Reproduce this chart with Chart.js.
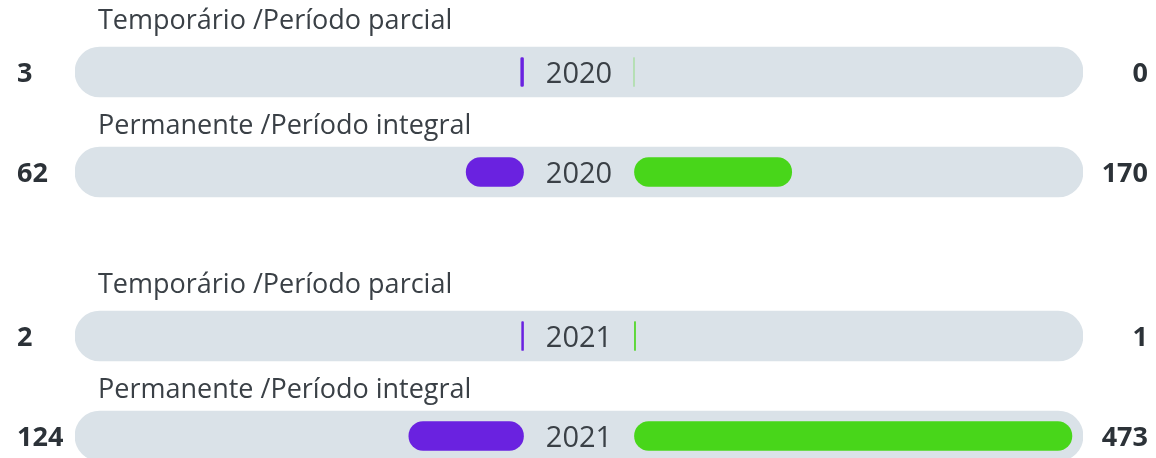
<!DOCTYPE html>
<html>
<head>
<meta charset="utf-8">
<script src="https://cdn.jsdelivr.net/npm/chart.js@4"></script>
<style>
  html, body { margin: 0; padding: 0; background: #ffffff; overflow: hidden; }
  .year-chart { position: absolute; left: 0; }
</style>
</head>
<body>
<canvas id="chart2020" class="year-chart" width="1156" height="264" style="top:0px"></canvas>
<canvas id="chart2021" class="year-chart" width="1156" height="264" style="top:264px"></canvas>
<script>
// Row labels (one bar per contract type)
const categories = ["Temporário /Período parcial", "Permanente /Período integral"];

// Values per year: purple grows to the left, green grows to the right
const years = ["2020", "2021"];
const purple2020 = [3, 62];
const green2020 = [0, 170];
const purple2021 = [2, 124];
const green2021 = [1, 473];

// Half width of the axis and the empty gap around the year text (axis units)
const AXIS_MAX = 545;
const GAP = 60;

const PURPLE = "#6a22e0";
const GREEN = "#48d61a";
const TRACK = "#dae2e8";
const TEXT = "#3a4046";

// Draws the row labels, the year in the middle and the values on both ends
const labelsPlugin = {
  id: "rowLabels",
  afterDatasetsDraw(chart, args, opts) {
    const { ctx } = chart;
    const xScale = chart.scales.x;
    const yScale = chart.scales.y;
    const labelOffsets = [43, 38];
    ctx.save();
    categories.forEach((label, i) => {
      const yc = yScale.getPixelForValue(i);
      ctx.fillStyle = TEXT;
      ctx.textBaseline = "alphabetic";

      ctx.font = '27px "Open Sans"';
      ctx.textAlign = "left";
      ctx.fillText(label, 98, yc - labelOffsets[i]);

      ctx.font = '29px "Open Sans"';
      ctx.textAlign = "center";
      ctx.fillText(opts.year, xScale.getPixelForValue(0), yc + 10.5);

      ctx.fillStyle = "#2c3238";
      ctx.font = 'bold 27px "Open Sans"';
      ctx.textAlign = "left";
      ctx.fillText(String(opts.left[i]), 17, yc + 10);
      ctx.textAlign = "right";
      ctx.fillText(String(opts.right[i]), 1148, yc + 10);
    });
    ctx.restore();
  },
};

function makeYearChart(canvasId, year, leftValues, rightValues) {
  const ctx = document.getElementById(canvasId).getContext("2d");
  return new Chart(ctx, {
    type: "bar",
    data: {
      labels: categories,
      datasets: [
        // Grey background track
        {
          data: categories.map(() => [-AXIS_MAX, AXIS_MAX]),
          backgroundColor: TRACK,
          barThickness: 50,
          borderRadius: 25,
          borderSkipped: false,
          grouped: false,
          order: 3,
        },
        // Purple bars to the left of the year
        {
          data: leftValues.map((v) => [-GAP - v, -GAP]),
          backgroundColor: PURPLE,
          barThickness: 29,
          borderRadius: 14.5,
          borderSkipped: false,
          grouped: false,
          order: 1,
        },
        // Green bars to the right of the year
        {
          data: rightValues.map((v) => [GAP, GAP + v]),
          backgroundColor: (c) => (rightValues[c.dataIndex] === 0 ? "rgba(72,214,26,0.3)" : GREEN),
          barThickness: 29,
          borderRadius: 14.5,
          borderSkipped: false,
          minBarLength: 1,
          grouped: false,
          order: 1,
        },
      ],
    },
    options: {
      indexAxis: "y",
      responsive: false,
      animation: false,
      events: [],
      layout: { padding: { left: 75, right: 73, top: 22, bottom: 42 } },
      scales: {
        x: { min: -AXIS_MAX, max: AXIS_MAX, display: false },
        y: { display: false },
      },
      plugins: {
        legend: { display: false },
        tooltip: { enabled: false },
        rowLabels: { year: year, left: leftValues, right: rightValues },
      },
    },
    plugins: [labelsPlugin],
  });
}

makeYearChart("chart2020", years[0], purple2020, green2020);
makeYearChart("chart2021", years[1], purple2021, green2021);
</script>
</body>
</html>
